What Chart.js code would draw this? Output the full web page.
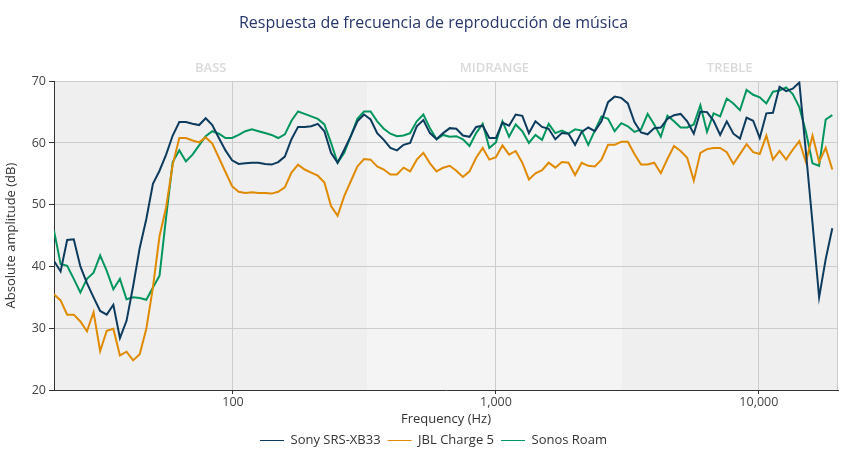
<!DOCTYPE html>
<html>
<head>
<meta charset="utf-8">
<script src="https://cdn.jsdelivr.net/npm/chart.js@4"></script>
<style>
  html, body { margin: 0; background: #fff; }
  #wrap { width: 867px; height: 457px; }
</style>
</head>
<body>
<div id="wrap"><canvas id="chart"></canvas></div>
<script>
// 1/12-octave frequency points (Hz)
const freqs = [20.86, 22.10, 23.41, 24.80, 26.28, 27.84, 29.50, 31.25, 33.11, 35.08,
  37.16, 39.37, 41.71, 44.19, 46.82, 49.61, 52.56, 55.68, 58.99, 62.5,
  66.22, 70.16, 74.33, 78.75, 83.43, 88.39, 93.64, 99.21, 105.1, 111.4,
  118.0, 125, 132.4, 140.3, 148.6, 157.5, 166.9, 176.8, 187.3, 198.4,
  210.2, 222.7, 236.0, 250, 264.9, 280.6, 297.3, 315.0, 333.7, 353.6,
  374.6, 396.9, 420.4, 445.4, 471.9, 500, 529.7, 561.2, 594.6, 630.0,
  667.4, 707.1, 749.2, 793.7, 840.9, 890.9, 943.9, 1000, 1059, 1122,
  1189, 1260, 1335, 1414, 1498, 1587, 1682, 1782, 1888, 2000,
  2119, 2245, 2378, 2520, 2670, 2828, 2997, 3175, 3364, 3564,
  3776, 4000, 4238, 4490, 4757, 5040, 5339, 5657, 5993, 6350,
  6727, 7127, 7551, 8000, 8476, 8980, 9514, 10079, 10679, 11314,
  11986, 12699, 13454, 14254, 15102, 16000, 16951, 17959, 19027];

const sony = [40.9, 39.2, 44.3, 44.4, 40.0, 37.3, 35.0, 32.8, 32.2, 33.8,
  28.4, 31.2, 36.8, 43.0, 47.7, 53.4, 55.5, 58.1, 61.2, 63.4,
  63.4, 63.1, 62.9, 64.0, 62.9, 60.8, 58.8, 57.2, 56.6, 56.7,
  56.8, 56.8, 56.6, 56.5, 56.9, 57.8, 60.6, 62.6, 62.6, 62.7,
  63.1, 61.9, 58.4, 56.8, 58.9, 61.1, 63.5, 64.6, 63.8, 61.6,
  60.5, 59.2, 58.8, 59.7, 60.0, 62.7, 63.7, 61.6, 60.6, 61.6,
  62.4, 62.3, 61.2, 61.0, 62.6, 62.8, 60.8, 60.8, 63.3, 62.8,
  64.6, 64.4, 61.6, 63.5, 62.6, 62.3, 60.6, 61.6, 61.5, 59.7,
  61.8, 62.5, 61.9, 63.5, 66.6, 67.5, 67.3, 66.4, 63.4, 61.7,
  61.4, 62.4, 62.5, 63.9, 64.5, 64.7, 63.5, 61.5, 65.1, 65.0,
  63.6, 61.3, 63.5, 61.5, 60.7, 64.1, 63.6, 60.8, 64.8, 64.9,
  69.1, 68.4, 68.8, 69.8, 58.5, 47.0, 35.0, 41.2, 46.2];

const jbl = [35.5, 34.5, 32.2, 32.2, 31.1, 29.5, 32.6, 26.3, 29.6, 29.9,
  25.6, 26.2, 24.8, 25.8, 29.9, 36.6, 44.9, 49.6, 56.5, 60.8,
  60.8, 60.4, 60.1, 60.9, 59.9, 57.6, 55.3, 53.0, 52.1, 51.9,
  52.0, 51.9, 51.9, 51.8, 52.1, 52.8, 55.2, 56.5, 55.7, 55.2,
  54.7, 53.6, 49.8, 48.2, 51.4, 53.8, 56.2, 57.4, 57.3, 56.2,
  55.7, 54.9, 54.9, 56.0, 55.4, 57.3, 58.4, 56.7, 55.4, 56.0,
  56.3, 55.5, 54.5, 55.4, 57.6, 59.2, 57.3, 57.7, 59.6, 58.1,
  58.7, 56.8, 54.1, 55.1, 55.6, 56.8, 56.0, 56.9, 56.8, 54.8,
  56.8, 56.3, 56.2, 57.3, 59.7, 59.7, 60.2, 60.2, 58.2, 56.5,
  56.5, 56.8, 55.1, 57.4, 59.5, 58.7, 57.6, 53.9, 58.4, 59.0,
  59.2, 59.2, 58.5, 56.6, 58.2, 59.8, 58.5, 58.2, 61.2, 57.3,
  58.7, 57.3, 58.9, 60.3, 56.9, 61.2, 56.9, 59.2, 55.7];

const sonos = [45.8, 40.4, 40.1, 38.0, 35.8, 38.0, 39.0, 41.8, 39.3, 36.3,
  38.0, 34.7, 35.0, 34.9, 34.6, 36.6, 38.5, 48.0, 56.9, 58.8,
  57.0, 58.1, 59.6, 61.1, 61.9, 61.5, 60.8, 60.8, 61.3, 61.9,
  62.2, 61.9, 61.6, 61.3, 60.8, 61.4, 63.6, 65.1, 64.7, 64.3,
  63.9, 63.0, 60.0, 56.8, 58.4, 61.1, 63.9, 65.1, 65.1, 63.5,
  62.3, 61.5, 61.1, 61.2, 61.6, 63.5, 64.6, 62.4, 60.6, 61.3,
  61.0, 61.1, 60.6, 59.5, 61.6, 63.1, 59.2, 60.1, 63.5, 61.0,
  63.0, 61.9, 60.0, 61.3, 60.5, 63.1, 61.6, 62.0, 61.5, 62.2,
  62.0, 59.7, 62.0, 64.3, 63.9, 61.9, 63.2, 62.7, 61.8, 62.2,
  64.7, 63.0, 61.0, 64.4, 63.5, 62.5, 62.5, 63.0, 66.1, 61.8,
  64.8, 64.3, 67.2, 66.4, 65.3, 68.6, 67.8, 67.4, 66.4, 68.3,
  68.5, 69.0, 67.9, 65.8, 61.8, 56.7, 56.3, 63.8, 64.5];

const seriesNames = ['Sony SRS-XB33', 'JBL Charge 5', 'Sonos Roam'];
const seriesColors = ['#0c3b5e', '#e08a00', '#00965e'];

// frequency bands shaded behind the plot
const bandNames = ['BASS', 'MIDRANGE', 'TREBLE'];
const bandEdges = [20.86, 325, 3000, 20000];
const bandFills = ['#efefef', '#f4f4f4', '#efefef'];

const xTicks = [100, 1000, 10000];

const FONT = "'Open Sans', 'Noto Sans', sans-serif";

function toPoints(values) {
  return freqs.map((f, i) => ({ x: f, y: values[i] }));
}

const bandsPlugin = {
  id: 'bands',
  beforeDraw(chart) {
    const { ctx, chartArea: a, scales: { x } } = chart;
    ctx.save();
    for (let i = 0; i < bandNames.length; i++) {
      const x0 = Math.max(a.left, x.getPixelForValue(bandEdges[i]));
      const x1 = Math.min(a.right, x.getPixelForValue(bandEdges[i + 1]));
      ctx.fillStyle = bandFills[i];
      ctx.fillRect(x0, a.top, x1 - x0, a.bottom - a.top);
      ctx.fillStyle = '#dadada';
      ctx.font = '600 13px ' + FONT;
      ctx.textAlign = 'center';
      ctx.textBaseline = 'middle';
      ctx.fillText(bandNames[i], (x0 + x1) / 2, a.top - 13);
    }
    ctx.restore();
  },
  beforeDatasetsDraw(chart) {
    const { ctx, chartArea: a } = chart;
    ctx.save();
    ctx.strokeStyle = '#cccccc';
    ctx.lineWidth = 1;
    ctx.beginPath();
    ctx.moveTo(Math.round(a.right) - 0.5, a.top);
    ctx.lineTo(Math.round(a.right) - 0.5, a.bottom);
    ctx.stroke();
    ctx.restore();
  }
};

const datasets = [sony, jbl, sonos].map((vals, i) => ({
  label: seriesNames[i],
  data: toPoints(vals),
  borderColor: seriesColors[i],
  backgroundColor: seriesColors[i],
  borderWidth: 2,
  pointRadius: 0,
  tension: 0,
  fill: false,
  yAxisID: 'y'
}));

new Chart(document.getElementById('chart'), {
  type: 'line',
  data: { datasets },
  plugins: [bandsPlugin],
  options: {
    responsive: true,
    maintainAspectRatio: false,
    animation: false,
    layout: { padding: 0 },
    plugins: {
      title: {
        display: true,
        text: 'Respuesta de frecuencia de reproducción de música',
        color: '#27366a',
        font: { family: FONT, size: 16, weight: 'normal' },
        padding: { top: 14, bottom: 48 }
      },
      legend: {
        position: 'bottom',
        labels: {
          usePointStyle: true,
          pointStyleWidth: 24,
          padding: 7,
          color: '#333',
          font: { family: FONT, size: 13 },
          generateLabels: chart => chart.data.datasets.map((d, i) => ({
            text: d.label,
            strokeStyle: d.borderColor,
            fillStyle: d.borderColor,
            lineWidth: 1,
            pointStyle: 'line',
            hidden: false,
            datasetIndex: i,
            fontColor: '#333'
          }))
        }
      },
      tooltip: { enabled: false }
    },
    scales: {
      x: {
        type: 'logarithmic',
        min: freqs[0],
        max: 20000,
        afterBuildTicks: s => { s.ticks = xTicks.map(v => ({ value: v })); },
        afterFit: s => { s.height = 37; },
        ticks: {
          color: '#444',
          font: { family: FONT, size: 12.5 },
          padding: 1,
          maxRotation: 0,
          autoSkip: false,
          callback: v => Number(v).toLocaleString('en-US')
        },
        grid: { color: '#cccccc', tickColor: '#333', tickLength: 4 },
        border: { color: '#333', width: 1 },
        title: {
          display: true,
          text: 'Frequency (Hz)',
          color: '#333',
          font: { family: FONT, size: 13 },
          padding: { top: 2, bottom: 0 }
        }
      },
      y: {
        min: 20,
        max: 70,
        afterFit: s => { s.width = 54; },
        ticks: {
          stepSize: 10,
          color: '#444',
          font: { family: FONT, size: 12.5 },
          padding: 3
        },
        grid: { color: '#cccccc', tickColor: '#333', tickLength: 5 },
        border: { color: '#333', width: 1 },
        title: {
          display: true,
          text: 'Absolute amplitude (dB)',
          color: '#333',
          font: { family: FONT, size: 13 },
          padding: { top: 3, bottom: 4 }
        }
      },
      // empty right-hand axis that only reserves the right margin
      y2: {
        position: 'right',
        min: 20,
        max: 70,
        afterFit: s => { s.width = 29; },
        ticks: { display: false },
        grid: { display: false },
        border: { display: false }
      }
    }
  }
});
</script>
</body>
</html>
